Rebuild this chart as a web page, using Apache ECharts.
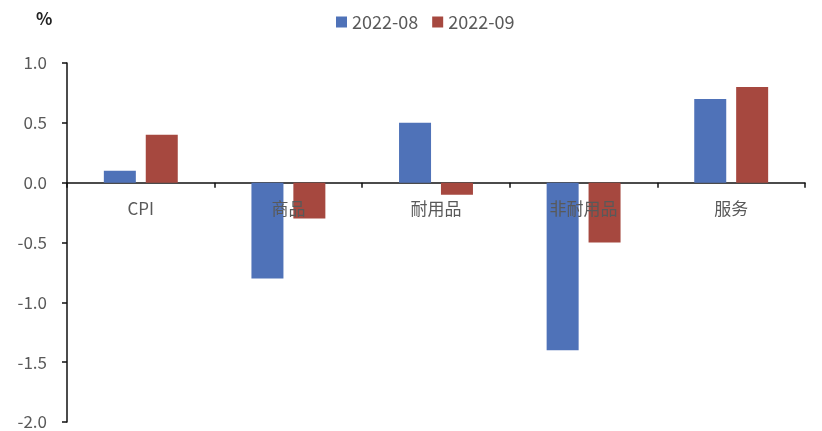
<!DOCTYPE html>
<html>
<head>
<meta charset="utf-8">
<script src="https://cdn.jsdelivr.net/npm/echarts@6/dist/echarts.min.js"></script>
<style>
  html, body { margin: 0; padding: 0; background: #fff; }
  #chart { width: 822px; height: 431px; }
</style>
</head>
<body>
<div id="chart"></div>
<script>
// Categories along the x axis
var categories = ['CPI', '商品', '耐用品', '非耐用品', '服务'];
// Month-over-month change, percent
var seriesNames = ['2022-08', '2022-09'];
var aug = [0.1, -0.8, 0.5, -1.4, 0.7];
var sep = [0.4, -0.3, -0.1, -0.5, 0.8];
// Value axis range
var yMin = -2.0, yMax = 1.0, yStep = 0.5;

var W = 822, H = 431;
var gridTop = 63, gridBottom = 9;
// Category labels sit just under the zero line, so shift their axis up to it
var plotH = H - gridTop - gridBottom;
var zeroOffset = -plotH * (0 - yMin) / (yMax - yMin);

var font = '"Noto Sans CJK SC", "Noto Sans", sans-serif';
var chart = echarts.init(document.getElementById('chart'));
chart.setOption({
  animation: false,
  color: ['#4F72B8', '#A6483F'],
  grid: { left: 67, right: 17, top: gridTop, bottom: gridBottom, containLabel: false, outerBoundsMode: 'none' },
  legend: {
    top: 8, left: 331,
    itemWidth: 11, itemHeight: 11, itemGap: 14,
    icon: 'rect',
    textStyle: { color: '#595959', fontSize: 18, fontFamily: font }
  },
  graphic: [{
    type: 'text', left: 36, top: 10,
    style: { text: '%', fill: '#222', font: 'bold 17px ' + font }
  }],
  xAxis: [{
    type: 'category',
    data: categories,
    axisLine: { onZero: true, lineStyle: { color: '#111', width: 1.5 } },
    axisTick: { show: true, inside: false, length: 5, lineStyle: { color: '#111', width: 1.5 } },
    axisLabel: { show: false },
    splitLine: { show: false }
  }, {
    type: 'category',
    data: categories,
    position: 'bottom',
    offset: zeroOffset,
    z: 10,
    axisLine: { show: false, onZero: false },
    axisTick: { show: false },
    axisLabel: { color: '#595959', fontSize: 17, fontFamily: font, margin: 17 },
    splitLine: { show: false }
  }],
  yAxis: {
    type: 'value',
    min: yMin, max: yMax, interval: yStep,
    axisLine: { show: true, lineStyle: { color: '#111', width: 1.5 } },
    axisTick: { show: true, length: 5, lineStyle: { color: '#111', width: 1.5 } },
    axisLabel: {
      color: '#595959', fontSize: 17, fontFamily: font, margin: 20,
      formatter: function (v) { return v.toFixed(1); }
    },
    splitLine: { show: false }
  },
  series: [
    { name: seriesNames[0], type: 'bar', data: aug, barWidth: 32, barGap: '31%' },
    { name: seriesNames[1], type: 'bar', data: sep, barWidth: 32, barGap: '31%' }
  ]
});
</script>
</body>
</html>
